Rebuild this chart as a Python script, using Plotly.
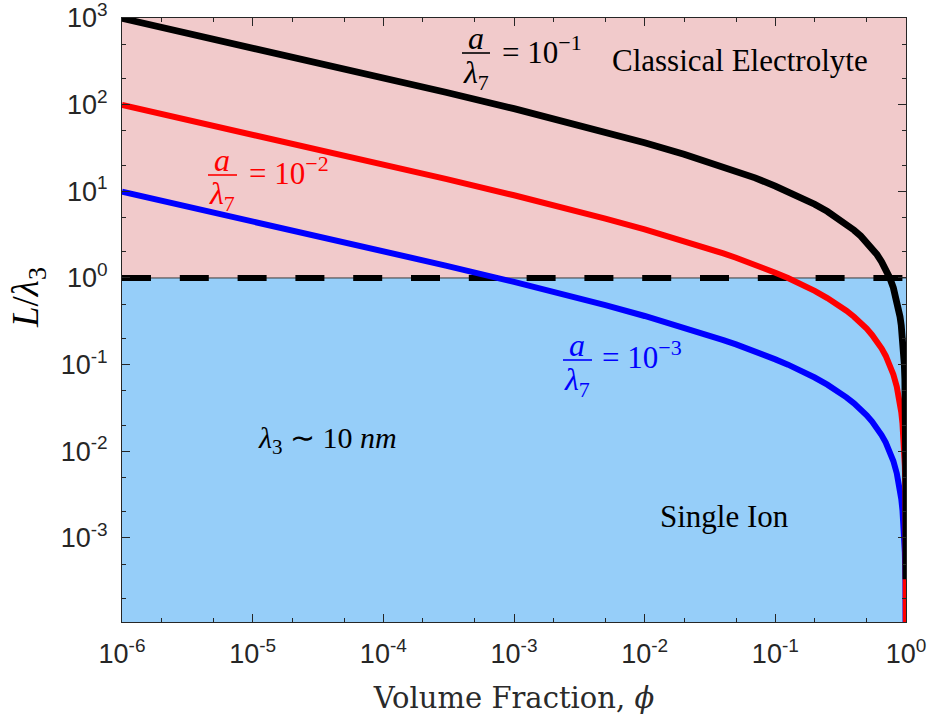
import plotly.graph_objects as go

# ---------------- data ----------------
phi = [1e-6, 1e-5, 1e-4, 3e-4, 1e-3, 2e-3, 5e-3, 1e-2, 0.02, 0.03, 0.04, 0.05, 0.07,
       0.1, 0.125, 0.15, 0.2, 0.25, 0.3, 0.35, 0.4, 0.45, 0.5, 0.55, 0.6, 0.65, 0.7,
       0.75, 0.8, 0.85, 0.88, 0.9, 0.92, 0.94, 0.95, 0.96, 0.97, 0.98, 0.99, 0.995,
       0.998, 0.999, 0.9995, 0.9998, 0.9999]

L_black = [990, 454, 205, 139, 90.0, 69.4, 48.5, 36.4, 26.8, 22.2, 19.2, 17.1, 14.3,
           11.5, 10.0, 8.82, 7.10, 5.87, 4.94, 4.19, 3.57, 3.05, 2.60, 2.20, 1.86, 1.54,
           1.26, 1.01, 0.772, 0.557, 0.435, 0.357, 0.282, 0.208, 0.173, 0.137, 0.102,
           0.0676, 0.0336, 0.0167, 0.00668, 0.00334, 0.00167, 0.000667, 0.000333]

L_red = [99.0, 45.4, 20.5, 13.9, 9.00, 6.94, 4.85, 3.64, 2.68, 2.22, 1.92, 1.71, 1.43,
         1.15, 1.00, 0.882, 0.710, 0.587, 0.494, 0.419, 0.357, 0.305, 0.260, 0.220,
         0.186, 0.154, 0.126, 0.101, 0.0772, 0.0557, 0.0435, 0.0357, 0.0282, 0.0208,
         0.0173, 0.0137, 0.0102, 0.00676, 0.00336, 0.00167, 0.000668, 0.000334,
         0.000167, 0.0000667, 0.0000333]

L_blue = [9.90, 4.54, 2.05, 1.39, 0.900, 0.694, 0.485, 0.364, 0.268, 0.222, 0.192, 0.171,
          0.143, 0.115, 0.100, 0.0882, 0.0710, 0.0587, 0.0494, 0.0419, 0.0357, 0.0305,
          0.0260, 0.0220, 0.0186, 0.0154, 0.0126, 0.0101, 0.00772, 0.00557, 0.00435,
          0.00357, 0.00282, 0.00208, 0.00173, 0.00137, 0.00102, 0.000676, 0.000336,
          0.000167, 0.0000668, 0.0000334, 0.0000167, 0.00000667, 0.00000333]

threshold = 1.0
x_limits = [1e-6, 1.0]
y_limits = [1.07e-4, 1e3]

x_tickvals = [1e-6, 1e-5, 1e-4, 1e-3, 1e-2, 1e-1, 1e0]
x_exponents = ["-6", "-5", "-4", "-3", "-2", "-1", "0"]
y_tickvals = [1e-3, 1e-2, 1e-1, 1e0, 1e1, 1e2, 1e3]
y_exponents = ["-3", "-2", "-1", "0", "1", "2", "3"]

# ---------------- layout geometry ----------------
W, H = 932, 719
L_M, R_M, T_M, B_M = 122, 26, 18, 97
PW = W - L_M - R_M
PH = H - T_M - B_M


def px(x):
    return (x - L_M) / PW


def py(y):
    return (H - B_M - y) / PH


AX = "#262626"
SERIF = "Liberation Serif, Times New Roman, serif"
SANS = "Arial, Liberation Sans, sans-serif"


def pow_label(e):
    return "10<sup><span style='font-size:19px'>%s</span></sup>" % e


fig = go.Figure()

# background regions
fig.add_trace(go.Scatter(
    x=[x_limits[0], x_limits[1], x_limits[1], x_limits[0]],
    y=[threshold, threshold, y_limits[1] * 2, y_limits[1] * 2],
    fill="toself", fillcolor="#F1CACB", line=dict(width=0), mode="lines",
    hoverinfo="skip", showlegend=False))
fig.add_trace(go.Scatter(
    x=[x_limits[0], x_limits[1], x_limits[1], x_limits[0]],
    y=[y_limits[0] / 2, y_limits[0] / 2, threshold, threshold],
    fill="toself", fillcolor="#96CEF9", line=dict(width=0), mode="lines",
    hoverinfo="skip", showlegend=False))
fig.add_trace(go.Scatter(
    x=x_limits, y=[threshold, threshold], mode="lines",
    line=dict(color="#3a3a3a", width=1), hoverinfo="skip", showlegend=False))

# dashed threshold
fig.add_trace(go.Scatter(
    x=x_limits, y=[threshold, threshold], mode="lines",
    line=dict(color="black", width=6, dash="29px,28.8px"), showlegend=False))

# curves
fig.add_trace(go.Scatter(x=phi, y=L_blue, mode="lines",
                         line=dict(color="#0000FF", width=6), showlegend=False))
fig.add_trace(go.Scatter(x=phi, y=L_red, mode="lines",
                         line=dict(color="#FF0000", width=6), showlegend=False))
fig.add_trace(go.Scatter(x=phi, y=L_black, mode="lines",
                         line=dict(color="#000000", width=6.8), showlegend=False))

axis_common = dict(
    type="log", showgrid=False, zeroline=False, showline=True, linecolor=AX,
    linewidth=1, mirror="ticks", ticks="inside", ticklen=8, tickwidth=1,
    tickcolor=AX, tickfont=dict(family=SANS, size=27, color=AX), automargin=False,
    ticklabeloverflow="allow",
    minor=dict(ticks="inside", ticklen=4, tickwidth=1, tickcolor=AX, showgrid=False),
)

fig.update_layout(
    width=W, height=H, margin=dict(l=L_M, r=R_M, t=T_M, b=B_M, pad=0),
    paper_bgcolor="white", plot_bgcolor="white",
    xaxis=dict(range=[-6, 0], tickvals=x_tickvals,
               ticktext=[pow_label(e) for e in x_exponents], ticklabelstandoff=8,
               title=dict(text="Volume Fraction, <i>ϕ</i>",
                          font=dict(family="DejaVu Serif, serif", size=29, color="#2a2a2a"),
                          standoff=19),
               **axis_common),
    yaxis=dict(range=[-3.97, 3], tickvals=y_tickvals,
               ticktext=[pow_label(e) for e in y_exponents], ticklabelstandoff=8,
               **axis_common),
)

annotations = []
shapes = []


def text(x, y, s, color="black", size=30, xanchor="center", yanchor="middle", angle=0):
    annotations.append(dict(x=px(x), y=py(y), xref="paper", yref="paper", text=s,
                            showarrow=False, xanchor=xanchor, yanchor=yanchor,
                            textangle=angle,
                            font=dict(family=SERIF, size=size, color=color)))


def frac(xc, ybar, x0, x1, color, rhs_x, rhs_y, exp):
    text(xc, ybar - 15, "<i>a</i>", color, size=32)
    shapes.append(dict(type="line", xref="paper", yref="paper",
                       x0=px(x0), x1=px(x1), y0=py(ybar), y1=py(ybar),
                       line=dict(color=color, width=1.6)))
    text(xc, ybar + 21, "<i>λ</i><sub><span style='font-size:22px'>7</span></sub>",
         color, size=32)
    text(rhs_x, rhs_y, "= 10<sup><span style='font-size:22px'>−%d</span></sup>" % exp,
         color, xanchor="left", size=31)


frac(476, 53, 462, 490, "black", 500, 50, 1)
frac(222, 175, 208, 237, "#FF0000", 247, 171, 2)
frac(577, 360, 563, 592, "#0000FF", 600, 355, 3)

text(740, 60, "Classical Electrolyte", size=31)
text(327, 440, "<i>λ</i><sub>3</sub> ∼ 10 <i>nm</i>", size=30)
text(724, 516, "Single Ion", size=31)
text(28, 298, "<i>L</i>/<i>λ</i><sub>3</sub>", size=37, angle=-90)

fig.update_layout(annotations=annotations, shapes=shapes)

fig.write_html("out.html", config={"displayModeBar": False},
               post_script="document.body.style.margin='0';document.body.style.overflow='hidden';")
